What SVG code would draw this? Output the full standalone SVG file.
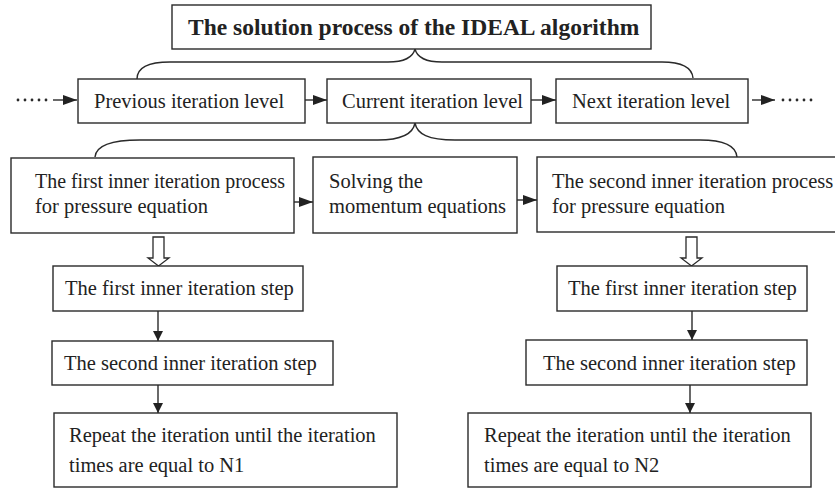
<svg xmlns="http://www.w3.org/2000/svg" width="835" height="489" viewBox="0 0 835 489">
<defs>
<style>
.box{fill:#fff;stroke:#2a2a2a;stroke-width:1.4}
.t{font-family:"Liberation Serif","Times New Roman",serif;font-size:20.5px;fill:#222}
.title{font-family:"Liberation Serif","Times New Roman",serif;font-size:23.5px;font-weight:bold;fill:#222}
.ln{fill:none;stroke:#2a2a2a;stroke-width:1.4}
.dot{fill:none;stroke:#2a2a2a;stroke-width:2.8;stroke-linecap:round;stroke-dasharray:0 7}
.hollow{fill:#fff;stroke:#2a2a2a;stroke-width:1.3}
</style>
<marker id="ah" viewBox="0 0 10 10" refX="10" refY="5" markerWidth="10" markerHeight="10" markerUnits="userSpaceOnUse" orient="auto">
<path d="M0,0 L10,5 L0,10 Z" fill="#222"/>
</marker>
<marker id="ahw" viewBox="0 0 14 10" refX="14" refY="5" markerWidth="14" markerHeight="10" markerUnits="userSpaceOnUse" orient="auto">
<path d="M0,0 L14,5 L0,10 Z" fill="#222"/>
</marker>
</defs>
<rect width="835" height="489" fill="#fff"/>

<g id="connectors">
<path class="ln" d="M137,79 C137,68 148,62 170,62 L388,62 C406,62 413,57 415,49 C417,57 424,62 442,62 L662,62 C682,62 692,68 693,78"/>
<path class="ln" d="M95,157 C96,146 110,140 140,140 L378,140 C402,140 413,134 415,123 C417,134 428,140 455,140 L700,140 C725,140 736,146 737,157"/>
<path class="dot" d="M18,100 L53,100"/>
<path class="ln" d="M53,100 L77,100" marker-end="url(#ahw)"/>
<path class="ln" d="M305,100 L327,100" marker-end="url(#ahw)"/>
<path class="ln" d="M531,100 L556,100" marker-end="url(#ahw)"/>
<path class="ln" d="M752,100 L775,100" marker-end="url(#ahw)"/>
<path class="dot" d="M783,100 L818,100"/>
<path class="ln" d="M294,202 L313,202" marker-end="url(#ahw)"/>
<path class="ln" d="M517,200 L537,200" marker-end="url(#ahw)"/>
<polygon class="hollow" points="153,237 164,237 164,258 169,258 158.5,266 148,258 153,258"/>
<polygon class="hollow" points="686,237 697,237 697,258 702,258 691.5,266 681,258 686,258"/>
<path class="ln" d="M158,311 L158,341" marker-end="url(#ah)"/>
<path class="ln" d="M692,311 L692,340" marker-end="url(#ah)"/>
<path class="ln" d="M158,385 L158,413" marker-end="url(#ah)"/>
<path class="ln" d="M690,385 L690,413" marker-end="url(#ah)"/>
</g>

<g id="title">
<rect class="box" x="172" y="5" width="479" height="44"/>
<text class="title" x="188" y="35">The solution process of the IDEAL algorithm</text>
</g>
<g id="previous">
<rect class="box" x="78" y="79" width="227" height="44"/>
<text class="t" x="94" y="108">Previous iteration level</text>
</g>
<g id="current">
<rect class="box" x="327" y="79" width="204" height="44"/>
<text class="t" x="342" y="108">Current iteration level</text>
</g>
<g id="next">
<rect class="box" x="556" y="79" width="192" height="44"/>
<text class="t" x="572" y="108">Next iteration level</text>
</g>
<g id="first-process">
<rect class="box" x="11" y="158" width="283" height="75"/>
<text class="t" x="35" y="188" textLength="250" lengthAdjust="spacingAndGlyphs">The first inner iteration process</text>
<text class="t" x="35" y="213">for pressure equation</text>
</g>
<g id="momentum">
<rect class="box" x="313" y="157" width="204" height="76"/>
<text class="t" x="329" y="188">Solving the</text>
<text class="t" x="329" y="213">momentum equations</text>
</g>
<g id="second-process">
<rect class="box" x="537" y="157" width="310" height="75"/>
<text class="t" x="552" y="188">The second inner iteration process</text>
<text class="t" x="552" y="213">for pressure equation</text>
</g>
<g id="left-step1">
<rect class="box" x="53" y="266" width="250" height="45"/>
<text class="t" x="65" y="295">The first inner iteration step</text>
</g>
<g id="right-step1">
<rect class="box" x="557" y="266" width="250" height="45"/>
<text class="t" x="568" y="295">The first inner iteration step</text>
</g>
<g id="left-step2">
<rect class="box" x="52" y="341" width="281" height="44"/>
<text class="t" x="64" y="370">The second inner iteration step</text>
</g>
<g id="right-step2">
<rect class="box" x="526" y="340" width="281" height="45"/>
<text class="t" x="543" y="370">The second inner iteration step</text>
</g>
<g id="left-repeat">
<rect class="box" x="54" y="413" width="343" height="74"/>
<text class="t" x="69" y="442">Repeat the iteration until the iteration</text>
<text class="t" x="69" y="472">times are equal to N1</text>
</g>
<g id="right-repeat">
<rect class="box" x="468" y="413" width="343" height="74"/>
<text class="t" x="484" y="442">Repeat the iteration until the iteration</text>
<text class="t" x="484" y="472">times are equal to N2</text>
</g>
</svg>
